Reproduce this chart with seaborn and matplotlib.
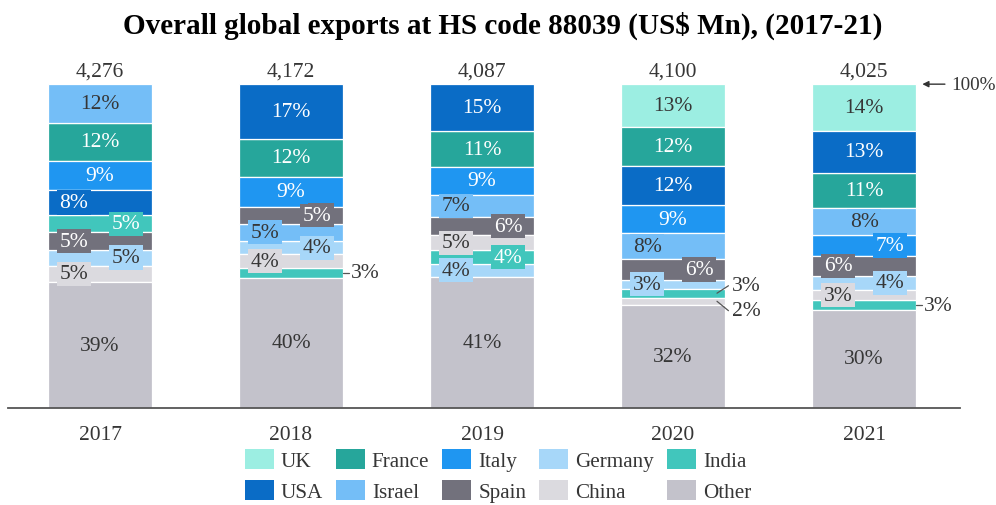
import numpy as np
import pandas as pd
import matplotlib
matplotlib.use("Agg")
import matplotlib.pyplot as plt
from matplotlib.patches import Patch
import seaborn as sns

# ---- data -------------------------------------------------------------
years = ["2017", "2018", "2019", "2020", "2021"]
totals = [4276, 4172, 4087, 4100, 4025]          # US$ Mn

# share of exports by country, % of the yearly total
uk      = [0.0,  0.0,  0.0,  13.1, 14.4]
usa     = [7.7,  16.8, 14.6, 12.1, 12.9]
france  = [11.6, 11.8, 10.9, 12.2, 10.9]
israel  = [12.0, 5.3,  6.8,  8.1,  8.3]
italy   = [9.1,  9.3,  8.7,  8.6,  6.6]
spain   = [5.3,  5.2,  5.7,  6.3,  6.0]
germany = [4.9,  4.2,  3.9,  2.8,  4.4]
china   = [5.2,  4.1,  4.6,  2.3,  3.3]
india   = [5.4,  3.1,  4.2,  2.7,  2.8]
other   = [38.8, 40.2, 40.6, 31.8, 30.4]

# stacking order of the segments in each bar, bottom to top
stack_order = {
    "2017": ["Other", "China", "Germany", "Spain", "India", "USA", "Italy", "France", "Israel"],
    "2018": ["Other", "India", "China", "Germany", "Israel", "Spain", "Italy", "France", "USA"],
    "2019": ["Other", "Germany", "India", "China", "Spain", "Israel", "Italy", "France", "USA"],
    "2020": ["Other", "China", "India", "Germany", "Spain", "Israel", "Italy", "USA", "France", "UK"],
    "2021": ["Other", "India", "China", "Germany", "Spain", "Italy", "Israel", "France", "USA", "UK"],
}

# ---- styling ----------------------------------------------------------
label_pos = {
    "2017": ["c", "l", "r", "l", "r", "l", "c", "c", "c"],
    "2018": ["c", "dash", "l", "r", "l", "r", "c", "c", "c"],
    "2019": ["c", "l", "r", "l", "r", "l", "c", "c", "c"],
    "2020": ["c", "down", "up", "l", "r", "l", "c", "c", "c", "c"],
    "2021": ["c", "dash", "l", "r", "l", "r", "c", "c", "c", "c"],
}

colors = {
    "UK": "#9CEEE2", "France": "#26A69B", "Italy": "#1F96F1", "Germany": "#A7D7F9",
    "India": "#41C6BC", "USA": "#0A6CC6", "Israel": "#74BEF7", "Spain": "#72717C",
    "China": "#DBDADF", "Other": "#C3C2CB",
}
white_text = {"France", "Italy", "USA", "Spain", "India"}
dark = "#363636"

shares = {
    "UK": uk, "USA": usa, "France": france, "Israel": israel, "Italy": italy,
    "Spain": spain, "Germany": germany, "China": china, "India": india, "Other": other,
}

rows = []
for yi, yr in enumerate(years):
    base = 0.0
    for c in stack_order[yr]:
        v = shares[c][yi]
        rows.append({"year": yr, "country": c, "share": v, "base": base})
        base += v
df = pd.DataFrame(rows)

sns.set_theme(style="white")
plt.rcParams["font.family"] = ["Liberation Serif", "DejaVu Serif"]

fig = plt.figure(figsize=(9.96, 5.06), dpi=100)
ax = fig.add_axes([0.008, 0.1917, 0.956, 0.640])

BAR_W = 0.545
for c in colors:
    sub = df[(df["country"] == c) & (df["share"] > 0)]
    sns.barplot(data=sub, x="year", y="share", order=years, bottom=sub["base"].to_numpy(),
                color=colors[c], saturation=1, width=BAR_W, errorbar=None,
                edgecolor="white", linewidth=0.9, ax=ax)

FS = 15.5
half = BAR_W / 2
for yi, yr in enumerate(years):
    ysub = df[df["year"] == yr].reset_index(drop=True)
    for k, r in ysub.iterrows():
        pos = label_pos[yr][k]
        mid = r["base"] + r["share"] / 2
        txt = f"{r['share']:.0f}%"
        col = colors[r["country"]]
        tc = "white" if r["country"] in white_text else dark
        if pos in ("c", "l", "r"):
            dx = {"c": 0.0, "l": -0.136, "r": 0.136}[pos]
            ax.text(yi + dx, mid, txt, ha="center", va="center", fontsize=FS, color=tc,
                    zorder=5,
                    bbox=dict(boxstyle="square,pad=0.12", fc=col, ec="none"))
        elif pos == "dash":
            ax.plot([yi + half, yi + half + 0.03], [mid, mid], color="#555555", lw=0.9,
                    clip_on=False, zorder=5)
            ax.text(yi + half + 0.04, mid, txt, ha="left", va="center", fontsize=FS,
                    color=dark, zorder=5)
        else:
            dy = 2.3 if pos == "up" else -2.9
            ax.plot([yi + 0.23, yi + 0.29], [mid, mid + dy], color="#555555", lw=0.9,
                    clip_on=False, zorder=5)
            ax.text(yi + 0.31, mid + dy, txt, ha="left", va="center", fontsize=FS,
                    color=dark, zorder=5)
    ax.text(yi, 104.2, f"{totals[yi]:,}", ha="center", va="center", fontsize=FS,
            color=dark, clip_on=False)

ax.annotate("100%", xy=(4.305, 100), xytext=(4.455, 100), ha="left", va="center",
            fontsize=13.8, color=dark, annotation_clip=False,
            arrowprops=dict(arrowstyle="-|>", color="#333333", lw=1.0,
                            mutation_scale=9, shrinkA=2, shrinkB=0))

ax.set_xlim(-0.482, 4.503)
ax.set_ylim(0, 100)
ax.set_xlabel("")
ax.set_ylabel("")
ax.set_yticks([])
ax.tick_params(axis="x", length=0, pad=12.5, labelsize=FS, labelcolor=dark)
for s in ("top", "left", "right"):
    ax.spines[s].set_visible(False)
ax.spines["bottom"].set_color("#555555")
ax.spines["bottom"].set_linewidth(1.3)

fig.text(0.505, 0.949, "Overall global exports at HS code 88039 (US$ Mn), (2017-21)",
         ha="center", va="center", fontsize=21, fontweight="bold", color="black")

legend_order = ["UK", "USA", "France", "Israel", "Italy", "Spain", "Germany", "China",
                "India", "Other"]
handles = [Patch(facecolor=colors[c], edgecolor="none", label=c) for c in legend_order]
fig.legend(handles=handles, loc="center", bbox_to_anchor=(0.5, 0.058), ncol=5,
           frameon=False, fontsize=15.2, handlelength=1.37, handleheight=1.09,
           handletextpad=0.33, columnspacing=0.62, labelspacing=0.42, borderpad=0,
           labelcolor=dark)

fig.savefig("out.png", dpi=100)
